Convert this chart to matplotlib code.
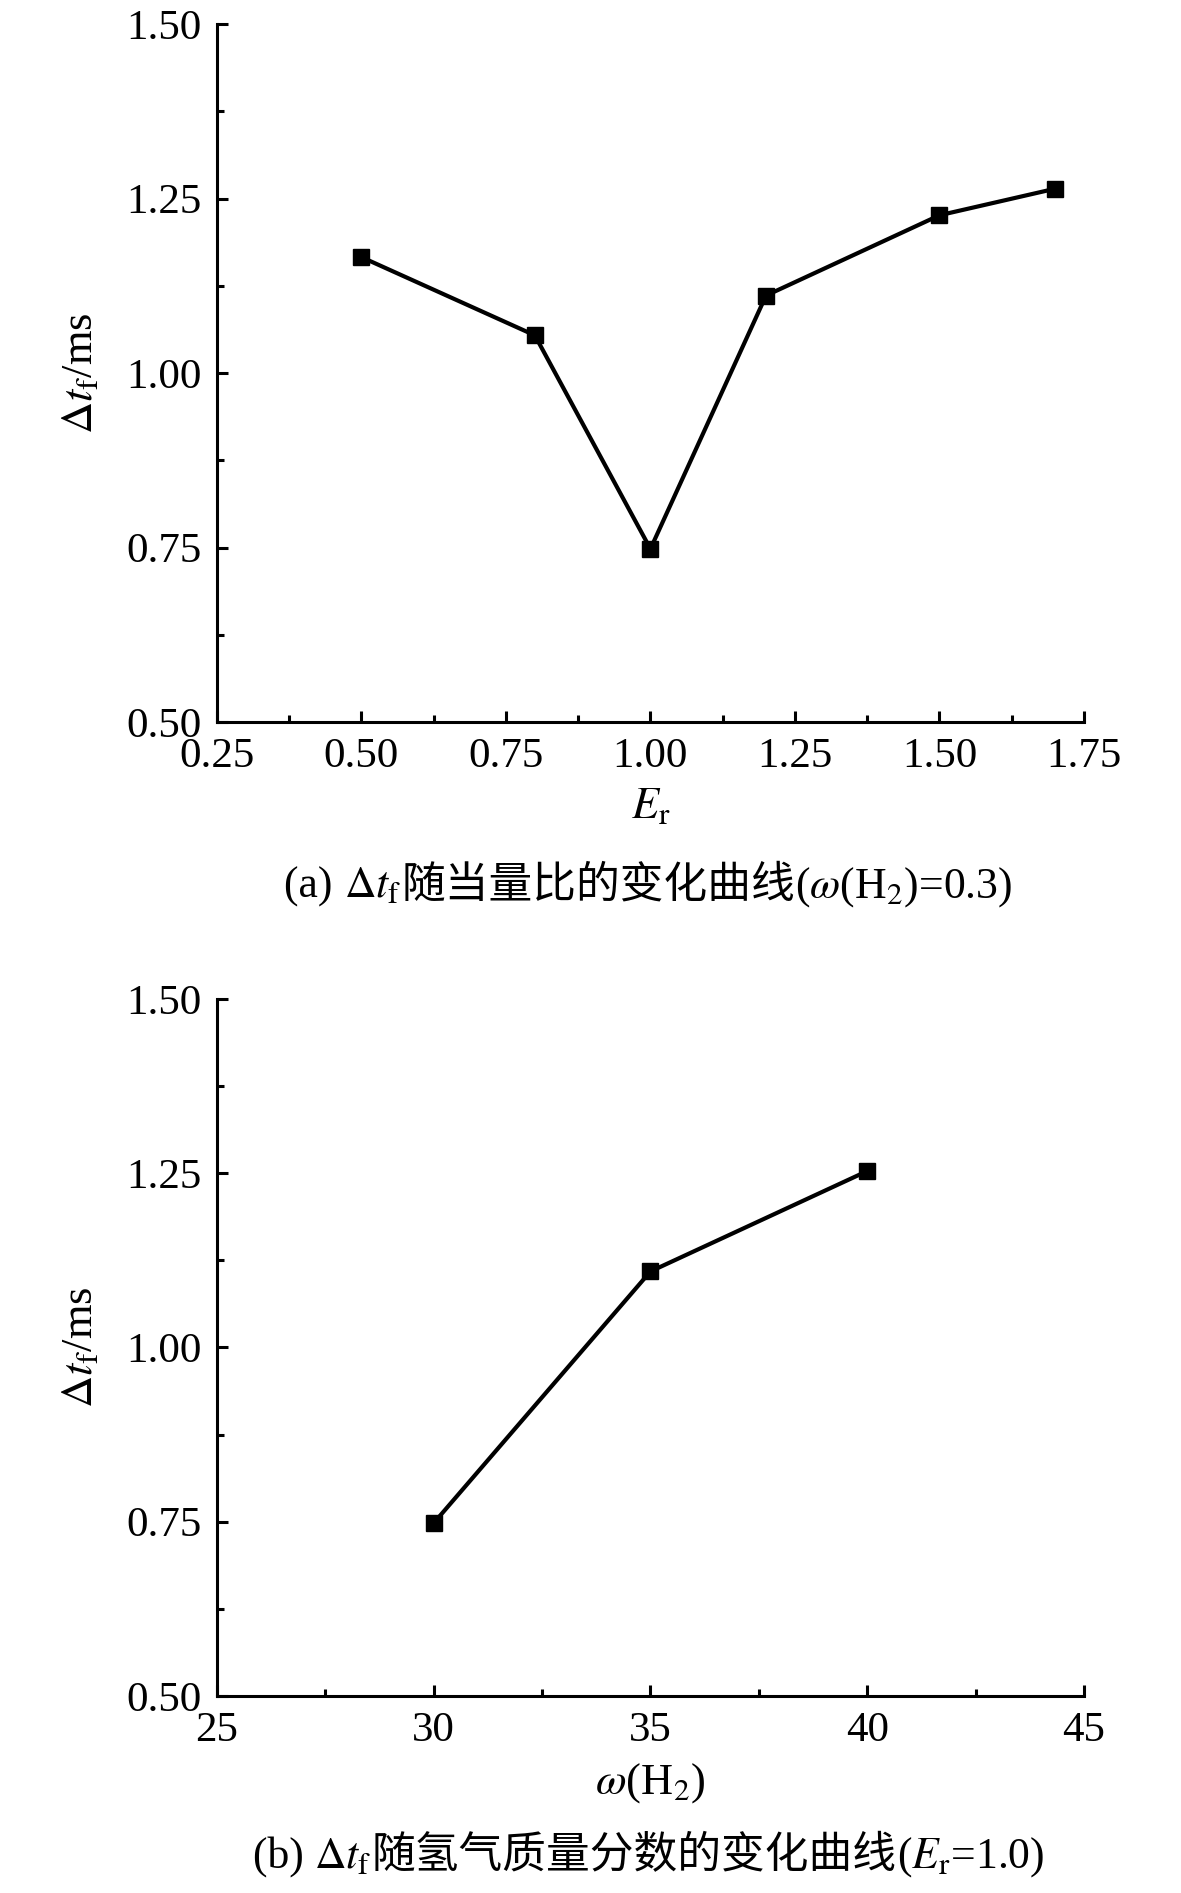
import matplotlib
matplotlib.use('Agg')
import matplotlib.pyplot as plt
from matplotlib.ticker import MultipleLocator, AutoMinorLocator

# data
er = [0.5, 0.8, 1.0, 1.2, 1.5, 1.7]
dt_er = [1.166, 1.054, 0.748, 1.111, 1.226, 1.264]

w_h2 = [30, 35, 40]
dt_w = [0.748, 1.109, 1.253]

cap_a = [('(a) ', 'serif'), (r'$\Delta t_{\rm f}$', 'math'), ('随当量比的变化曲线', 'cjk'),
         (r'($\omega$(H$_2$)=0.3)', 'math')]
cap_b = [('(b) ', 'serif'), (r'$\Delta t_{\rm f}$', 'math'), ('随氢气质量分数的变化曲线', 'cjk'),
         (r'($E_{\rm r}$=1.0)', 'math')]

plt.rcParams['font.family'] = ['Liberation Serif', 'Noto Sans CJK SC']
plt.rcParams['mathtext.fontset'] = 'stix'
plt.rcParams['font.size'] = 30

fig = plt.figure(figsize=(11.81, 18.93), dpi=100)
ax1 = fig.add_axes([0.1837, 0.6186, 0.7341, 0.3687])
ax2 = fig.add_axes([0.1837, 0.1041, 0.7341, 0.3682])


def style(ax):
    for s in ['top', 'right']:
        ax.spines[s].set_visible(False)
    for s in ['left', 'bottom']:
        ax.spines[s].set_linewidth(2.2)
    ax.tick_params(which='major', direction='in', length=8, width=2.2, pad=11, labelsize=31)
    ax.tick_params(which='minor', direction='in', length=5, width=2.2)
    ax.yaxis.set_major_locator(MultipleLocator(0.25))
    ax.yaxis.set_minor_locator(AutoMinorLocator(2))
    ax.xaxis.set_minor_locator(AutoMinorLocator(2))
    ax.set_ylim(0.5, 1.5)
    ax.yaxis.set_major_formatter(plt.FormatStrFormatter('%.2f'))
    ax.set_ylabel(r'$\Delta t_{\rm f}$/ms', fontsize=32, labelpad=18)


def caption(pieces, xc, yb, size=31.5):
    # pieces laid left to right on one baseline, then centred on xc
    texts = []
    for s, kind in pieces:
        fam = 'Noto Sans CJK SC' if kind == 'cjk' else 'Liberation Serif'
        t = fig.text(xc, yb, s, ha='left', va='baseline', family=fam, fontsize=size)
        texts.append(t)
    fig.canvas.draw()
    r = fig.canvas.get_renderer()
    widths = [t.get_window_extent(r).width / fig.bbox.width for t in texts]
    x = xc - sum(widths) / 2
    for t, w in zip(texts, widths):
        t.set_position((x, yb))
        x += w


ax1.plot(er, dt_er, color='black', lw=3, marker='s', ms=12)
ax1.set_xlim(0.25, 1.75)
ax1.xaxis.set_major_locator(MultipleLocator(0.25))
ax1.xaxis.set_major_formatter(plt.FormatStrFormatter('%.2f'))
style(ax1)
ax1.set_xlabel(r'$E_{\rm r}$', fontsize=32, labelpad=8)

ax2.plot(w_h2, dt_w, color='black', lw=3, marker='s', ms=12)
ax2.set_xlim(25, 45)
ax2.xaxis.set_major_locator(MultipleLocator(5))
style(ax2)
ax2.set_xlabel(r'$\omega$(H$_2$)', fontsize=32, labelpad=8)

caption(cap_a, 0.549, 0.526)
caption(cap_b, 0.549, 0.0132)

fig.savefig('out.png', dpi=100)
